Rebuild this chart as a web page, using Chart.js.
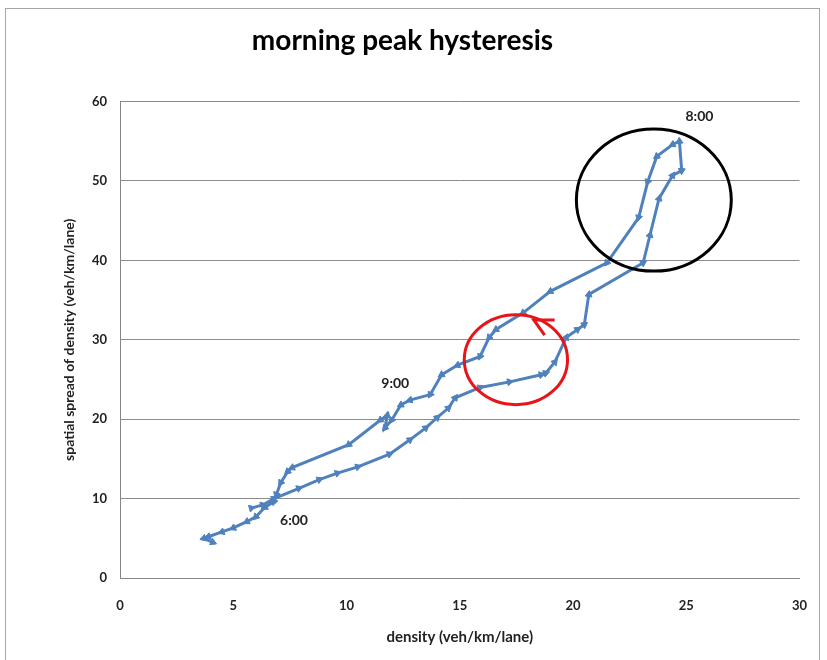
<!DOCTYPE html>
<html>
<head>
<meta charset="utf-8">
<title>morning peak hysteresis</title>
<script src="https://cdn.jsdelivr.net/npm/chart.js@4/dist/chart.umd.min.js"></script>
<style>
html, body { margin: 0; padding: 0; background: #fff; }
#wrap { position: relative; width: 827px; height: 660px; }
#frame { position: absolute; left: 5px; top: 8px; width: 815px; height: 660px; border: 1px solid #a6a6a6; box-sizing: border-box; }
#chart { position: absolute; left: 0; top: 0; }
</style>
</head>
<body>
<div id="wrap">
    <div id="frame"></div>
    <canvas id="chart" width="827" height="660"></canvas>
</div>
<script>
/**
 * Data: density vs spatial spread of density,
 * 6:00 -> 8:00 along the lower branch, then back down through 9:00.
 */
const density = [
    5.8, 6.3, 6.8, 7.9, 8.8, 9.6, 10.5, 11.9, 12.8, 13.5, 14.0, 14.5, 14.8, 15.9,
    17.2, 18.6, 18.8, 19.2, 19.7, 20.2, 20.5, 20.7, 23.1, 23.4, 23.8, 24.4, 24.8, 24.7,
    24.4, 23.7, 23.3, 22.9, 21.5, 19.0, 17.8, 16.6, 16.3, 15.9, 14.9, 14.2, 13.7, 12.8,
    12.4, 12.0, 11.7, 11.8, 11.5, 10.1, 7.6, 7.4, 7.1, 6.9, 6.8, 6.4, 6.0, 5.6,
    5.0, 4.5, 3.9, 3.7, 4.1
];
const spread = [
    8.8, 9.2, 10.0, 11.3, 12.4, 13.2, 14.0, 15.6, 17.4, 18.9, 20.2, 21.4, 22.7, 24.0,
    24.7, 25.6, 25.8, 27.2, 30.3, 31.3, 31.9, 35.7, 39.7, 43.2, 47.8, 50.7, 51.3, 55.0,
    54.6, 53.1, 49.9, 45.4, 39.7, 36.1, 33.4, 31.3, 30.3, 27.9, 26.8, 25.6, 23.1, 22.4,
    21.8, 19.9, 18.9, 20.5, 19.9, 16.8, 13.9, 13.4, 12.0, 10.5, 9.6, 8.9, 7.7, 7.1,
    6.3, 5.8, 5.2, 5.0, 4.5
];

// time labels and the point each one belongs to
const timeLabels = ['6:00', '8:00', '9:00'];
const timeLabelIndex = [2, 27, 45];

// axis ticks
const xTicks = [0, 5, 10, 15, 20, 25, 30];
const yTicks = [0, 10, 20, 30, 40, 50, 60];

// hand drawn marks: ellipses [cx, cy, rx, ry] in data units, and the red arrow head
const blackRing = [23.57, 47.6, 3.42, 8.95];
const redRing = [17.48, 27.5, 2.28, 5.67];
const redArrow = [[19.19, 32.5], [18.27, 32.5], [18.75, 30.6]];

const points = density.map(function (d, i) {
    return {x: d, y: spread[i]};
});

const blue = '#4f81bd';
const textFont = 'Lato, "Open Sans", sans-serif';

/**
 * Arrow markers point along the direction of travel
 */
function arrowRotation(ctx) {
    const i = ctx.dataIndex;
    const chart = ctx.chart;
    const xs = chart.scales.x, ys = chart.scales.y;
    const a = i > 0 ? points[i - 1] : points[0];
    const b = i > 0 ? points[i] : points[1];
    const dx = xs.getPixelForValue(b.x) - xs.getPixelForValue(a.x);
    const dy = ys.getPixelForValue(b.y) - ys.getPixelForValue(a.y);
    return Math.atan2(dy, dx) * 180 / Math.PI + 90;
}

/**
 * Annotations: circles, arrow head and time labels
 */
const annotations = {
    id: 'annotations',
    afterDatasetsDraw(chart) {
        const c = chart.ctx;
        const xs = chart.scales.x, ys = chart.scales.y;
        const px = function (v) { return xs.getPixelForValue(v); };
        const py = function (v) { return ys.getPixelForValue(v); };

        function ring(r, color) {
            c.save();
            c.beginPath();
            c.ellipse(px(r[0]), py(r[1]), px(r[0] + r[2]) - px(r[0]), py(r[1]) - py(r[1] + r[3]), 0, 0, Math.PI * 2);
            c.lineWidth = 3;
            c.strokeStyle = color;
            c.stroke();
            c.restore();
        }

        ring(blackRing, '#000');
        ring(redRing, '#e8141b');

        c.save();
        c.beginPath();
        c.moveTo(px(redArrow[0][0]), py(redArrow[0][1]));
        c.lineTo(px(redArrow[1][0]), py(redArrow[1][1]));
        c.lineTo(px(redArrow[2][0]), py(redArrow[2][1]));
        c.lineWidth = 3;
        c.strokeStyle = '#e8141b';
        c.stroke();
        c.restore();

        const offsets = [[20, 22], [20, -25], [8, -32]];
        c.save();
        c.font = 'bold 14px ' + textFont;
        c.fillStyle = '#222';
        c.textAlign = 'center';
        c.textBaseline = 'middle';
        for (let k = 0; k < timeLabels.length; k++) {
            const p = points[timeLabelIndex[k]];
            c.fillText(timeLabels[k], px(p.x) + offsets[k][0], py(p.y) + offsets[k][1]);
        }
        c.restore();
    }
};

new Chart(document.getElementById('chart'), {
    type: 'line',
    data: {
        datasets: [{
            label: 'hysteresis',
            data: points,
            borderColor: blue,
            backgroundColor: blue,
            borderWidth: 3,
            tension: 0,
            pointStyle: 'triangle',
            pointRadius: 4,
            pointBorderWidth: 1,
            pointRotation: arrowRotation
        }]
    },
    options: {
        responsive: false,
        animation: false,
        layout: {padding: {left: 0, right: 22, top: 0, bottom: 0}},
        plugins: {
            legend: {display: false},
            tooltip: {enabled: false},
            title: {
                display: true,
                text: 'morning peak hysteresis',
                color: '#000',
                font: {family: textFont, size: 28, weight: 'bold'},
                padding: {top: 24, bottom: 44}
            }
        },
        scales: {
            x: {
                type: 'linear',
                min: 0,
                max: 30,
                afterBuildTicks: function (s) { s.ticks = xTicks.map(function (v) { return {value: v}; }); },
                afterFit: function (s) { s.height = 82; },
                grid: {display: false, drawTicks: false},
                border: {display: true, color: '#868686', width: 1},
                ticks: {color: '#222', padding: 20, font: {family: textFont, size: 13, weight: 'bold'}},
                title: {
                    display: true,
                    text: 'density (veh/km/lane)',
                    color: '#222',
                    font: {family: textFont, size: 15, weight: 'bold'},
                    padding: {top: 10, bottom: 14}
                }
            },
            y: {
                type: 'linear',
                min: 0,
                max: 60,
                afterBuildTicks: function (s) { s.ticks = yTicks.map(function (v) { return {value: v}; }); },
                afterFit: function (s) { s.width = 120; },
                grid: {color: '#8c8c8c', lineWidth: 1, drawTicks: false},
                border: {display: true, color: '#868686', width: 1},
                ticks: {color: '#222', padding: 13, font: {family: textFont, size: 13, weight: 'bold'}},
                title: {
                    display: true,
                    text: 'spatial spread of density (veh/km/lane)',
                    color: '#222',
                    font: {family: textFont, size: 14, weight: 'bold'},
                    padding: {top: 61, bottom: 0}
                }
            }
        }
    },
    plugins: [annotations]
});
</script>
</body>
</html>
